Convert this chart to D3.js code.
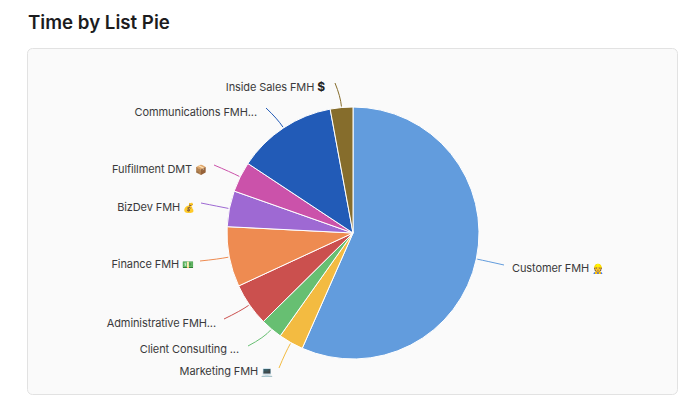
<!DOCTYPE html>
<html>
<head>
<meta charset="utf-8">
<script src="https://cdn.jsdelivr.net/npm/d3@7"></script>
<style>
  html, body { margin: 0; padding: 0; background: #fff; }
  text { font-family: Inter, "Noto Sans", sans-serif; }
</style>
</head>
<body>
<div id="vis"></div>
<script>
// valores, en % del total
const categories = ["Customer FMH", "Marketing FMH", "Client Consulting ...", "Administrative FMH...", "Finance FMH", "BizDev FMH", "Fulfillment DMT", "Communications FMH...", "Inside Sales FMH"];
const emojis = ["👷", "💻", "", "", "💵", "💰", "📦", "", "$"];
const values = [56.6, 3.2, 2.8, 5.5, 7.7, 4.6, 3.9, 12.8, 2.9];
const colors = ["#629cdd", "#f3bb41", "#67bf72", "#cb504e", "#ee8b51", "#9e69d3", "#cb52aa", "#225bb7", "#866d2c"];

// layout: punta de cada linea y posicion del texto
const lineEnds = [[504, 265], [279, 368], [248, 346], [224, 319], [200, 261], [201, 203], [214, 165], [266, 108], [335, 83]];
const labelPos = [[512, 272], [273, 375], [239, 353], [216, 327], [194, 268], [195, 211], [207, 173], [257, 116], [325, 91]];

const WIDTH = 690;
const HEIGHT = 405;
const CX = 353;
const CY = 233;
const RADIUS = 126;

const SVG = d3.select("#vis").append("svg")
  .attr("width", WIDTH)
  .attr("height", HEIGHT)
  .style("display", "block");

SVG.append("text")
  .attr("x", 28)
  .attr("y", 29)
  .attr("font-size", 18.7)
  .attr("font-weight", 600)
  .attr("fill", "#1c1c1e")
  .text("Time by List Pie");

// tarjeta de fondo
SVG.append("rect")
  .attr("x", 27.5)
  .attr("y", 48.5)
  .attr("width", 650)
  .attr("height", 346)
  .attr("rx", 5)
  .attr("fill", "#fafafa")
  .attr("stroke", "#e2e2e2");

const data = categories.map((name, i) => ({ name, emoji: emojis[i], value: values[i], color: colors[i], end: lineEnds[i], label: labelPos[i] }));

const pie = d3.pie().value(d => d.value).sort(null);
const arc = d3.arc().innerRadius(0).outerRadius(RADIUS);
const arcs = pie(data);

const g = SVG.append("g").attr("transform", `translate(${CX},${CY})`);

g.selectAll("path")
  .data(arcs)
  .join("path")
  .attr("d", arc)
  .attr("fill", d => d.data.color)
  .attr("stroke", "#fff")
  .attr("stroke-width", 1);

// lineas guia: salen del borde y se curvan hacia la etiqueta
function leader(d) {
  const mid = (d.startAngle + d.endAngle) / 2;
  const px = r => CX + r * Math.sin(mid);
  const py = r => CY - r * Math.cos(mid);
  const p = d3.path();
  p.moveTo(px(RADIUS + 1), py(RADIUS + 1));
  p.quadraticCurveTo(px(RADIUS + 11), py(RADIUS + 11), d.data.end[0], d.data.end[1]);
  return p.toString();
}

SVG.append("g").selectAll("path")
  .data(arcs)
  .join("path")
  .attr("d", leader)
  .attr("fill", "none")
  .attr("stroke", d => d.data.color)
  .attr("stroke-width", 1);

const labels = SVG.append("g").selectAll("text")
  .data(data)
  .join("text")
  .attr("x", d => d.label[0])
  .attr("y", d => d.label[1])
  .attr("text-anchor", (d, i) => i === 0 ? "start" : "end")
  .attr("font-size", 11)
  .attr("letter-spacing", -0.1)
  .attr("fill", "#3a3a3c");

labels.append("tspan").text(d => d.name);

labels.filter(d => d.emoji !== "").append("tspan")
  .attr("dx", 3)
  .attr("font-size", d => d.emoji === "$" ? 12 : 9.5)
  .attr("font-weight", d => d.emoji === "$" ? 700 : 400)
  .attr("fill", d => d.emoji === "$" ? "#222" : null)
  .text(d => d.emoji);
</script>
</body>
</html>
